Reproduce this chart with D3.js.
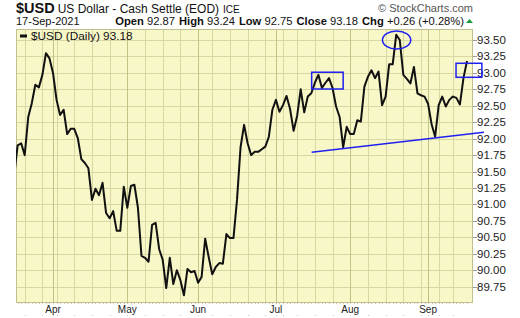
<!DOCTYPE html>
<html>
<head>
<meta charset="utf-8">
<script src="https://cdn.jsdelivr.net/npm/d3@7"></script>
<style>
  body { margin: 0; background: #fff; }
  svg text { font-family: "Liberation Sans", Arial, sans-serif; }
</style>
</head>
<body>
<div id="chart"></div>
<script>
// trading calendar (weekdays minus market holidays)
const firstDay = "2021-03-17";
const lastDay = "2021-09-17";
const holidays = ["2021-04-02", "2021-05-31", "2021-07-05", "2021-09-06"];

// daily closes
const closes = [
  91.43, 91.90, 91.93, 91.75, 92.33, 92.54, 92.82, 92.78, 92.97, 93.30, 93.22,          // Mar
  93.00, 92.59, 92.36, 92.44, 92.07, 92.15, 92.15, 92.01, 91.69, 91.63, 91.55,          // Apr
  91.07, 91.24, 91.14, 91.33, 90.87, 90.79, 90.90, 90.60, 90.60, 91.27,
  90.95, 91.28, 91.30, 90.95, 90.22, 90.19, 90.13, 90.69, 90.72, 90.32,                 // May
  90.16, 89.73, 90.19, 89.79, 90.00, 89.85, 89.62, 90.02, 89.97, 89.99,
  89.81, 89.90, 90.48, 90.20, 89.94, 90.05, 90.11, 90.10, 90.55, 90.49, 90.49,          // Jun
  91.07, 91.87, 92.21, 91.93, 91.75, 91.80, 91.80, 91.84, 91.88, 92.03, 92.44,
  92.59, 92.41, 92.51, 92.65, 92.45, 92.12, 92.35, 92.75, 92.40, 92.64, 92.69,          // Jul
  92.85, 92.97, 92.77, 92.85, 92.92, 92.77, 92.49, 92.33, 91.87, 92.18,
  92.07, 92.07, 92.28, 92.26, 92.79, 92.94, 93.04, 92.92, 93.02, 92.51, 92.64,          // Aug
  93.13, 93.13, 93.58, 93.50, 92.97, 92.91, 92.84, 93.09, 92.69, 92.66, 92.64,
  92.53, 92.22, 92.03, 92.51, 92.64, 92.49, 92.59, 92.64, 92.62, 92.52, 92.92, 93.18    // Sep
];

const yTicks = [89.75, 90.00, 90.25, 90.50, 90.75, 91.00, 91.25, 91.50, 91.75,
                92.00, 92.25, 92.50, 92.75, 93.00, 93.25, 93.50];

// hand drawn annotations (trading-day index / price)
const boxes = [
  {i0: 84.1, i1: 93.0, lo: 92.755, hi: 93.01},
  {i0: 124.9, i1: 132.2, lo: 92.933, hi: 93.146}
];
const circles = [{i: 108.1, v: 93.50, di: 4.0, dv: 0.137}];
const trendLines = [{i0: 84.1, v0: 91.793, i1: 132.8, v1: 92.097}];

const header = {
  symbol: "$USD", name: "US Dollar - Cash Settle (EOD)", exch: "ICE",
  date: "17-Sep-2021",
  stats: [["Open", "92.87"], ["High", "93.24"], ["Low", "92.75"], ["Close", "93.18"], ["Chg", "+0.26 (+0.28%)"]]
};

const W = 520, H = 318;
const plot = {left: 16, right: 473, top: 29, bottom: 302};

const parse = d3.timeParse("%Y-%m-%d");
const fmt = d3.timeFormat("%Y-%m-%d");
const days = d3.timeDay.range(parse(firstDay), d3.timeDay.offset(parse(lastDay), 1))
  .filter(d => d.getDay() !== 0 && d.getDay() !== 6 && !holidays.includes(fmt(d)));

const data = days.map((d, i) => ({date: d, i: i, v: closes[i]}));

const x = d3.scaleLinear().domain([0, 128]).range([14.1, 467]);
const y = d3.scaleLinear().domain([89.518, 93.667]).range([plot.bottom, plot.top]);

// first trading day of each month / week
const monthStarts = data.filter((d, k) => k > 0 && d.date.getMonth() !== data[k - 1].date.getMonth());
const weekStarts = data.filter((d, k) => k > 0 && d3.timeMonday.floor(d.date) > data[k - 1].date
  && !monthStarts.includes(d));

const svg = d3.select("#chart").append("svg")
  .attr("width", W).attr("height", H);

svg.append("defs").append("clipPath").attr("id", "clip")
  .append("rect")
  .attr("x", plot.left).attr("y", plot.top)
  .attr("width", plot.right - plot.left).attr("height", plot.bottom - plot.top);

// plot background
svg.append("rect")
  .attr("x", plot.left).attr("y", plot.top)
  .attr("width", plot.right - plot.left).attr("height", plot.bottom - plot.top)
  .attr("fill", "#f8f7c8");

// grid
svg.append("g").selectAll("line")
  .data(yTicks)
  .join("line")
  .attr("x1", plot.left).attr("x2", plot.right)
  .attr("y1", d => Math.round(y(d)) + 0.5).attr("y2", d => Math.round(y(d)) + 0.5)
  .attr("stroke", "#d8d8a4").attr("stroke-width", 1);

svg.append("g").selectAll("line")
  .data(weekStarts)
  .join("line")
  .attr("x1", d => Math.round(x(d.i)) + 0.5).attr("x2", d => Math.round(x(d.i)) + 0.5)
  .attr("y1", plot.top).attr("y2", plot.bottom)
  .attr("stroke", "#d8d8a4").attr("stroke-width", 1);

svg.append("g").selectAll("line")
  .data(monthStarts)
  .join("line")
  .attr("x1", d => Math.round(x(d.i)) + 0.5).attr("x2", d => Math.round(x(d.i)) + 0.5)
  .attr("y1", plot.top).attr("y2", plot.bottom)
  .attr("stroke", "#c2c486").attr("stroke-width", 1);

// frame
svg.append("rect")
  .attr("x", plot.left + 0.5).attr("y", plot.top + 0.5)
  .attr("width", plot.right - plot.left - 1).attr("height", plot.bottom - plot.top)
  .attr("fill", "none")
  .attr("stroke", "#bfbf90");

// daily ticks under the bottom edge
svg.append("g").selectAll("rect")
  .data(data.filter(d => x(d.i) > plot.left && x(d.i) < plot.right))
  .join("rect")
  .attr("x", d => Math.round(x(d.i))).attr("y", plot.bottom + 1)
  .attr("width", 1).attr("height", 1)
  .attr("fill", "#c8c8b0");

svg.append("g").selectAll("rect")
  .data(weekStarts.concat(monthStarts))
  .join("rect")
  .attr("x", d => Math.round(x(d.i))).attr("y", 315)
  .attr("width", 1).attr("height", 1)
  .attr("fill", "#c8c8c8");

// right axis
const yAxis = svg.append("g").attr("transform", `translate(${plot.right},0)`);
yAxis.selectAll("line")
  .data(yTicks)
  .join("line")
  .attr("x1", 0).attr("x2", 4)
  .attr("y1", d => Math.round(y(d)) + 0.5).attr("y2", d => Math.round(y(d)) + 0.5)
  .attr("stroke", "#999");
yAxis.selectAll("text")
  .data(yTicks)
  .join("text")
  .attr("x", 4).attr("y", d => y(d) + 4)
  .attr("font-size", 11.5).attr("fill", "#222")
  .text(d3.format(".2f"));

// month labels
svg.append("g").selectAll("text")
  .data(monthStarts)
  .join("text")
  .attr("x", d => x(d.i)).attr("y", 313)
  .attr("text-anchor", "middle")
  .attr("font-family", "DejaVu Sans")
  .attr("font-size", 10)
  .attr("fill", "#222")
  .text(d => d3.timeFormat("%b")(d.date));

// price line
const line = d3.line().x(d => x(d.i)).y(d => y(d.v));
svg.append("path")
  .datum(data)
  .attr("clip-path", "url(#clip)")
  .attr("d", line)
  .attr("fill", "none")
  .attr("stroke", "#111")
  .attr("stroke-width", 2)
  .attr("stroke-linejoin", "round");

// annotations
const ann = svg.append("g").attr("fill", "none").attr("stroke", "#2020f0").attr("stroke-width", 1.5);
ann.selectAll("rect")
  .data(boxes)
  .join("rect")
  .attr("x", d => x(d.i0)).attr("y", d => y(d.hi))
  .attr("width", d => x(d.i1) - x(d.i0)).attr("height", d => y(d.lo) - y(d.hi));
ann.selectAll("ellipse")
  .data(circles)
  .join("ellipse")
  .attr("cx", d => x(d.i)).attr("cy", d => y(d.v))
  .attr("rx", d => x(d.i + d.di) - x(d.i)).attr("ry", d => y(d.v - d.dv) - y(d.v));
ann.selectAll("line")
  .data(trendLines)
  .join("line")
  .attr("x1", d => x(d.i0)).attr("y1", d => y(d.v0))
  .attr("x2", d => x(d.i1)).attr("y2", d => y(d.v1));

// legend
svg.append("line")
  .attr("x1", 20).attr("x2", 27).attr("y1", 36).attr("y2", 36)
  .attr("stroke", "#111").attr("stroke-width", 3);
svg.append("text")
  .attr("x", 31).attr("y", 40)
  .attr("font-family", "DejaVu Sans").attr("font-size", 11.8).attr("fill", "#111")
  .text(`${header.symbol} (Daily) ${d3.format(".2f")(closes[closes.length - 1])}`);

// header
const t1 = svg.append("text").attr("x", 16).attr("y", 13).attr("fill", "#111");
t1.append("tspan").attr("font-weight", "bold").attr("font-size", 14.5).text(header.symbol);
t1.append("tspan").attr("font-size", 12).attr("dx", 3).text(header.name);
t1.append("tspan").attr("font-size", 10).attr("dx", 4).text(header.exch);

svg.append("text")
  .attr("x", 473).attr("y", 12)
  .attr("text-anchor", "end")
  .attr("font-size", 11).attr("fill", "#555")
  .text("\u00a9 StockCharts.com");

svg.append("text")
  .attr("x", 16).attr("y", 25)
  .attr("font-size", 11).attr("fill", "#111")
  .text(header.date);

const t2 = svg.append("text").attr("x", 464).attr("y", 25)
  .attr("text-anchor", "end").attr("font-size", 11.2).attr("fill", "#111");
header.stats.forEach((s, k) => {
  t2.append("tspan").attr("font-weight", "bold").attr("dx", k ? 4 : 0).text(s[0] + " ");
  t2.append("tspan").text(s[1]);
});
svg.append("path")
  .attr("d", "M466,23 L473,23 L469.5,19 Z")
  .attr("fill", "#1a9a3a");
</script>
</body>
</html>
